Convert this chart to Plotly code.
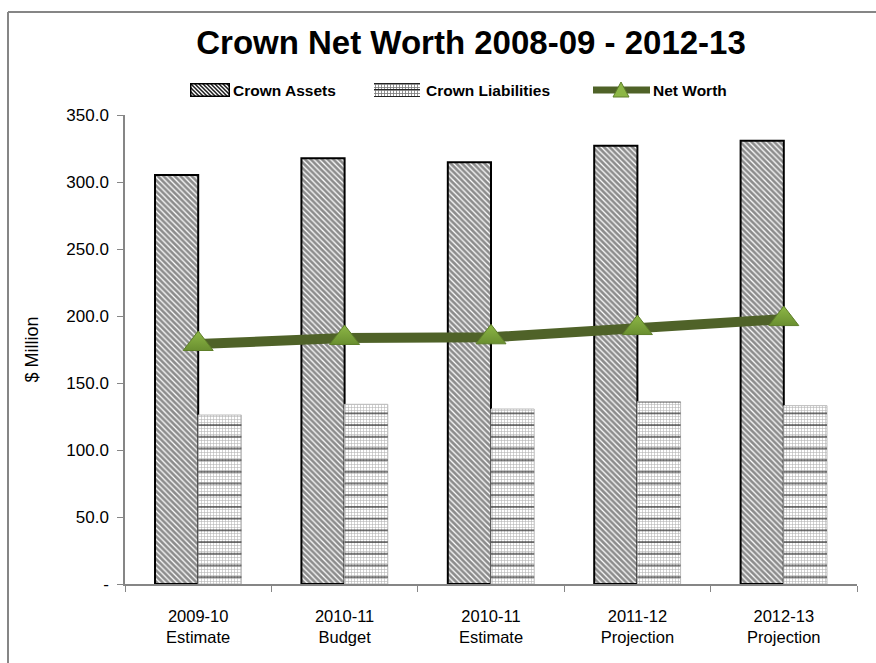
import base64
import plotly.graph_objects as go

# Crown balance sheet, $ million
categories = ["2009-10<br>Estimate", "2010-11<br>Budget", "2010-11<br>Estimate",
              "2011-12<br>Projection", "2012-13<br>Projection"]
crown_assets = [305.2, 317.7, 314.7, 327.0, 330.8]
crown_liabilities = [126.1, 134.1, 130.6, 136.0, 133.1]
net_worth = [179.1, 183.6, 184.1, 191.0, 197.7]

y_tick_vals = [0, 50, 100, 150, 200, 250, 300, 350]
y_tick_text = ["-", "50.0", "100.0", "150.0", "200.0", "250.0", "300.0", "350.0"]

series_names = ["Crown Assets", "Crown Liabilities", "Net Worth"]

W, H = 876, 663
L, R, T, B = 125, 19, 115, 79
plot_w = W - L - R
plot_h = H - T - B

font_main = "Liberation Sans"
line_green = "#4F6228"
marker_green = "#8DB746"
marker_green_dark = "#6A8F30"


def px_x(p):
    return (p - L) / plot_w


def px_y(p):
    return (H - B - p) / plot_h


def svg_uri(svg):
    return "data:image/svg+xml;base64," + base64.b64encode(svg.encode()).decode()


fig = go.Figure()

fig.add_trace(go.Bar(
    name=series_names[0], x=categories, y=crown_assets, offsetgroup="assets",
    marker=dict(color="white", line=dict(color="black", width=2),
                pattern=dict(shape="\\", fgcolor="#1a1a1a", bgcolor="white",
                             size=4, solidity=0.68)),
))

fig.add_trace(go.Bar(
    name=series_names[1], x=categories, y=crown_liabilities, offsetgroup="liab",
    marker=dict(color="white", line=dict(color="#bbbbbb", width=1),
                pattern=dict(shape="+", fgcolor="#666666", bgcolor="white",
                             size=3, solidity=0.35)),
))

# heavier horizontal rules laid over the liabilities grid
fig.add_trace(go.Bar(
    name=series_names[1], x=categories, y=crown_liabilities, offsetgroup="liab",
    marker=dict(color="rgba(0,0,0,0)", line=dict(width=0),
                pattern=dict(shape="-", fillmode="replace", fgcolor="#111111",
                             bgcolor="rgba(0,0,0,0)", size=11.7, solidity=0.09)),
    hoverinfo="skip",
))

fig.add_trace(go.Scatter(
    name=series_names[2], x=categories, y=net_worth, mode="lines+markers",
    line=dict(color=line_green, width=10),
    marker=dict(symbol="triangle-up", size=26, color=marker_green,
                gradient=dict(type="vertical", color=marker_green_dark),
                line=dict(color="#5E7F2A", width=1)),
))

# ---- legend, drawn as swatches + labels across the top ----
assets_swatch = (
    "<svg xmlns='http://www.w3.org/2000/svg' width='40' height='14'>"
    "<defs><pattern id='p' width='4' height='4' patternUnits='userSpaceOnUse'>"
    "<path d='M-1,-1 L5,5 M-1,3 L1,5 M3,-1 L5,1' stroke='#1a1a1a' stroke-width='1.5'/>"
    "</pattern></defs>"
    "<rect x='0' y='0' width='40' height='14' fill='white'/>"
    "<rect x='0.75' y='0.75' width='38.5' height='12.5' fill='url(#p)' "
    "stroke='black' stroke-width='1.5'/></svg>"
)
liab_swatch = (
    "<svg xmlns='http://www.w3.org/2000/svg' width='46' height='14'>"
    "<defs><pattern id='g' width='3' height='3' patternUnits='userSpaceOnUse'>"
    "<path d='M1.5,0 V3 M0,1.5 H3' stroke='#777' stroke-width='0.8'/>"
    "</pattern></defs>"
    "<rect x='0' y='0' width='46' height='14' fill='white'/>"
    "<rect x='0' y='0' width='46' height='14' fill='url(#g)'/>"
    "<path d='M0,0.5 H46 M0,6.5 H46 M0,13.5 H46' stroke='#222' stroke-width='1'/>"
    "</svg>"
)

legend_font = dict(family=font_main, size=15.5, color="black", weight="bold")
legend_y = 90

images = [
    dict(source=svg_uri(assets_swatch), xref="paper", yref="paper",
         x=px_x(190), y=px_y(legend_y - 7), sizex=40 / plot_w, sizey=14 / plot_h,
         xanchor="left", yanchor="top", sizing="stretch", layer="above"),
    dict(source=svg_uri(liab_swatch), xref="paper", yref="paper",
         x=px_x(374), y=px_y(legend_y - 7), sizex=46 / plot_w, sizey=14 / plot_h,
         xanchor="left", yanchor="top", sizing="stretch", layer="above"),
]

label_x = [231, 424, 651]
annotations = [
    dict(text="<b>%s</b>" % name, x=px_x(lx), y=px_y(legend_y), xref="paper",
         yref="paper", xanchor="left", yanchor="middle", showarrow=False,
         font=legend_font)
    for name, lx in zip(series_names, label_x)
]

tri_cx, tri_half, tri_h = 621, 8, 15
triangle_path = "M {} {} L {} {} L {} {} Z".format(
    px_x(tri_cx - tri_half), px_y(legend_y + 7),
    px_x(tri_cx + tri_half), px_y(legend_y + 7),
    px_x(tri_cx), px_y(legend_y + 7 - tri_h))

shapes = [
    # chart frame
    dict(type="line", xref="paper", yref="paper",
         x0=px_x(8), x1=px_x(W + 20), y0=px_y(12), y1=px_y(12),
         line=dict(color="#868686", width=2)),
    dict(type="line", xref="paper", yref="paper",
         x0=px_x(8), x1=px_x(8), y0=px_y(12), y1=px_y(H + 20),
         line=dict(color="#868686", width=2)),
    # net worth legend key
    dict(type="line", xref="paper", yref="paper",
         x0=px_x(593), x1=px_x(650), y0=px_y(legend_y), y1=px_y(legend_y),
         line=dict(color=line_green, width=7)),
    dict(type="path", xref="paper", yref="paper", path=triangle_path,
         fillcolor=marker_green, line=dict(color="#5E7F2A", width=1)),
]

fig.update_layout(
    width=W, height=H,
    margin=dict(l=L, r=R, t=T, b=B),
    paper_bgcolor="white", plot_bgcolor="white",
    barmode="group", bargap=0.41, bargroupgap=0.0,
    showlegend=False,
    title=dict(text="<b>Crown Net Worth 2008-09 - 2012-13</b>",
               font=dict(family=font_main, size=33, color="black"),
               x=471 / W, xref="container", xanchor="center",
               y=1 - 42 / H, yref="container", yanchor="middle"),
    xaxis=dict(showline=True, linecolor="#868686", linewidth=1.5,
               ticks="outside", ticklen=6, tickcolor="#868686",
               tickson="boundaries", showgrid=False, ticklabelstandoff=16,
               tickfont=dict(family=font_main, size=16.5, color="black")),
    yaxis=dict(range=[0, 350], tickvals=y_tick_vals, ticktext=y_tick_text,
               showline=True, linecolor="#868686", linewidth=1.5,
               ticks="outside", ticklen=6, tickcolor="#868686",
               showgrid=False, zeroline=False, ticklabelstandoff=5,
               tickfont=dict(family=font_main, size=17, color="black"),
               title=dict(text="$ Million", standoff=23,
                          font=dict(family=font_main, size=18, color="black"))),
    images=images,
    annotations=annotations,
    shapes=shapes,
)

fig.write_html("out.html")
